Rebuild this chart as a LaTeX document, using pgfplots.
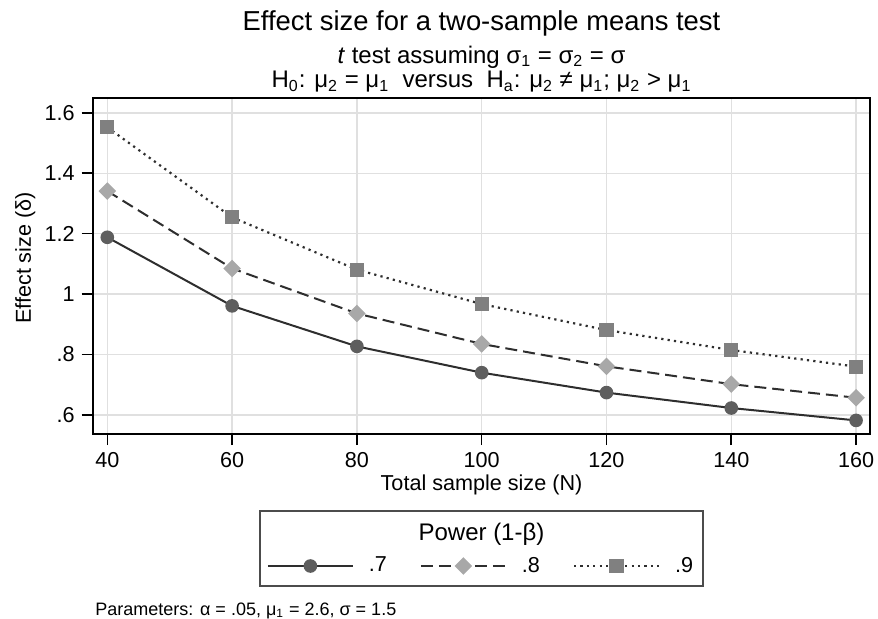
\documentclass[border=0pt]{standalone}
\usepackage{fontspec}
\setmainfont{Liberation Sans}
\usepackage{pgfplots}
\pgfplotsset{compat=1.18}
\definecolor{gridc}{gray}{0.88}
\definecolor{linec}{gray}{0.18}
\definecolor{c1}{gray}{0.37}
\definecolor{c2}{gray}{0.66}
\definecolor{c3}{gray}{0.5}
\definecolor{framec}{gray}{0.3}
\begin{document}
\begin{tikzpicture}
\useasboundingbox (-46.35pt,-92pt) rectangle (392.65pt,217pt);
\begin{axis}[
  at={(0,0)}, anchor=south west,
  scale only axis, width=388.65pt, height=167.85pt,
  xmin=37.66, xmax=162.23, ymin=0.537, ymax=1.648,
  xtick={40,60,...,160},
  ytick={0.6,0.8,1,1.2,1.4,1.6},
  yticklabels={.6,.8,1,1.2,1.4,1.6},
  grid=major, grid style={gridc, line width=0.7pt},
  axis line style={line width=0.9pt, black},
  tick style={black, line width=0.8pt},
  tick align=outside, major tick length=5.5pt,
  xtick pos=bottom, ytick pos=left,
  ticklabel style={font=\fontsize{10.8}{12}\selectfont},
  /pgf/number format/assume math mode=true,
  legend columns=3,
  legend style={at={(0.4983,-0.3932)}, anchor=center, draw=none, fill=none,
    font=\fontsize{10.8}{12}\selectfont,
    nodes={inner sep=0pt},
    /tikz/every odd column/.append style={column sep=7.5pt},
    /tikz/every even column/.append style={column sep=16.5pt}},
  legend image code/.code={\draw[mark repeat=2,mark phase=2,#1] plot coordinates {(0pt,0pt) (21.25pt,0pt) (42.5pt,0pt)};},
]
\addplot[linec, line width=1pt, mark=*, mark size=2.9pt, mark options={solid, fill=c1, draw=c1}]
  coordinates {(40,1.188)(60,0.961)(80,0.827)(100,0.740)(120,0.674)(140,0.623)(160,0.582)};
\addplot[linec, line width=1pt, dash pattern=on 6pt off 3pt, mark=square*, mark size=2.6pt, mark options={solid, rotate=45, fill=c2, draw=c2}]
  coordinates {(40,1.341)(60,1.085)(80,0.936)(100,0.835)(120,0.761)(140,0.702)(160,0.657)};
\addplot[linec, line width=1.1pt, dash pattern=on 1.1pt off 2.1pt, mark=square*, mark size=3pt, mark options={solid, fill=c3, draw=c3}]
  coordinates {(40,1.552)(60,1.254)(80,1.081)(100,0.967)(120,0.881)(140,0.815)(160,0.760)};
\legend{.7,.8,.9}
\end{axis}
\begin{scope}[x=0.5pt,y=-0.5pt,shift={(-46.35pt,217pt)}]
\node[anchor=base, inner sep=0pt, font=\fontsize{13.7}{16}\selectfont] at (481.5,30) {Effect size for a two-sample means test};
\node[anchor=base, inner sep=0pt, font=\fontsize{12}{14}\selectfont] at (481.5,63) {\textit{t} test assuming σ\textsubscript{1} = σ\textsubscript{2} = σ};
\node[anchor=base, inner sep=0pt, font=\fontsize{12}{14}\selectfont] at (481.5,87.5) {H\textsubscript{0}: μ\textsubscript{2} = μ\textsubscript{1}\ \ versus\ \ H\textsubscript{a}: μ\textsubscript{2} ≠ μ\textsubscript{1}; μ\textsubscript{2} > μ\textsubscript{1}};
\node[anchor=base, rotate=90, inner sep=0pt, font=\fontsize{10.8}{12}\selectfont] at (31,258) {Effect size (δ)};
\node[anchor=base, inner sep=0pt, font=\fontsize{10.8}{12}\selectfont] at (481.5,490) {Total sample size (N)};
\draw[framec, line width=0.8pt] (260,510.7) rectangle (703,586);
\node[anchor=base, inner sep=0pt, font=\fontsize{12}{14}\selectfont] at (481.5,540) {Power (1-β)};
\node[anchor=base west, inner sep=0pt, font=\fontsize{9}{11}\selectfont] at (95,615) {Parameters: α = .05, μ\textsubscript{1} = 2.6, σ = 1.5};
\end{scope}
\end{tikzpicture}
\end{document}
